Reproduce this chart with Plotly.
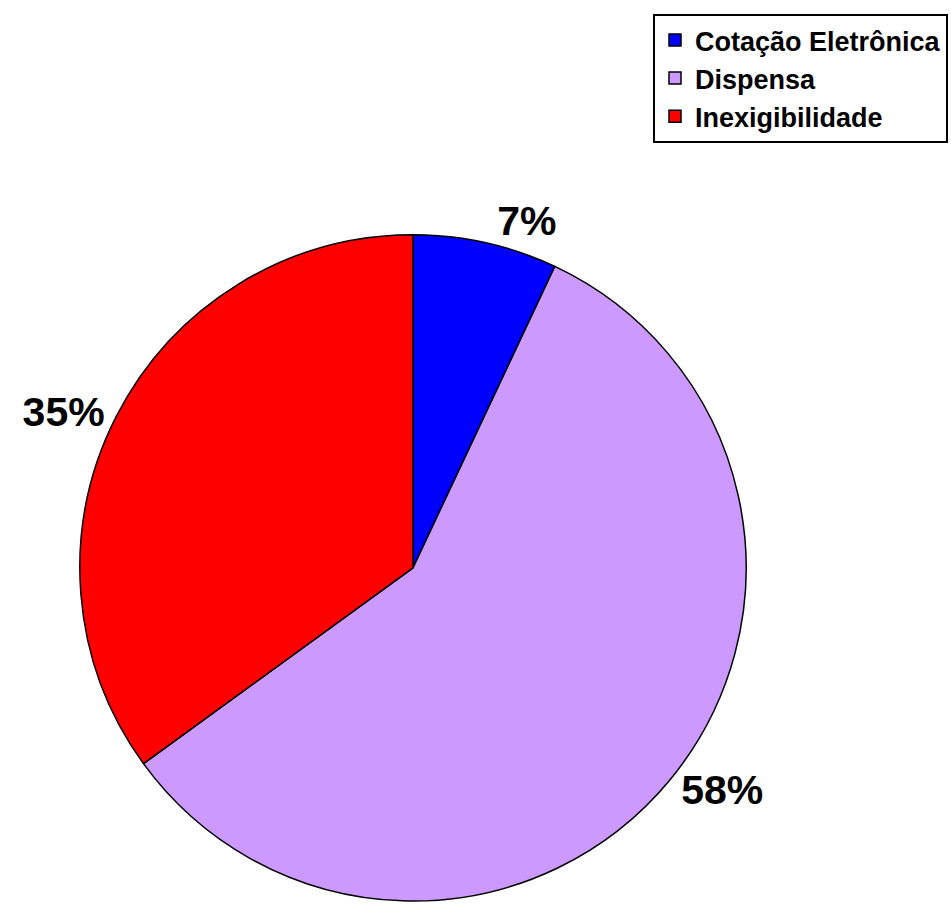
import plotly.graph_objects as go

categories = ["Cotação Eletrônica", "Dispensa", "Inexigibilidade"]
values = [7, 58, 35]
colors = ["#0000FF", "#CC99FF", "#FF0000"]

W, H = 951, 906
FONT = "Liberation Sans, Arial, sans-serif"
R = 335
CX = 413

fig = go.Figure(go.Pie(
    labels=["<b>" + c + "</b>" for c in categories],
    values=values,
    sort=False,
    direction="clockwise",
    rotation=0,
    marker=dict(colors=colors, line=dict(color="black", width=1.5)),
    textinfo="percent",
    texttemplate="<b>%{percent:.0%}</b>",
    textposition="outside",
    outsidetextfont=dict(family=FONT, size=41, color="black"),
    domain=dict(x=[(CX - R) / W, (CX + R) / W], y=[0, 2 * R / H]),
    hoverinfo="label+percent",
))

fig.update_layout(
    width=W, height=H,
    margin=dict(l=0, r=0, t=0, b=0),
    paper_bgcolor="white",
    plot_bgcolor="white",
    showlegend=True,
    legend=dict(
        x=948 / W, y=1 - 14 / H, xanchor="right", yanchor="top",
        bordercolor="black", borderwidth=2, bgcolor="white",
        font=dict(family=FONT, size=27, color="black"),
        traceorder="normal",
    ),
)

fig.write_html(
    "out.html",
    config={"displayModeBar": False},
    post_script="document.body.style.margin='0';document.body.style.overflow='hidden';",
)
